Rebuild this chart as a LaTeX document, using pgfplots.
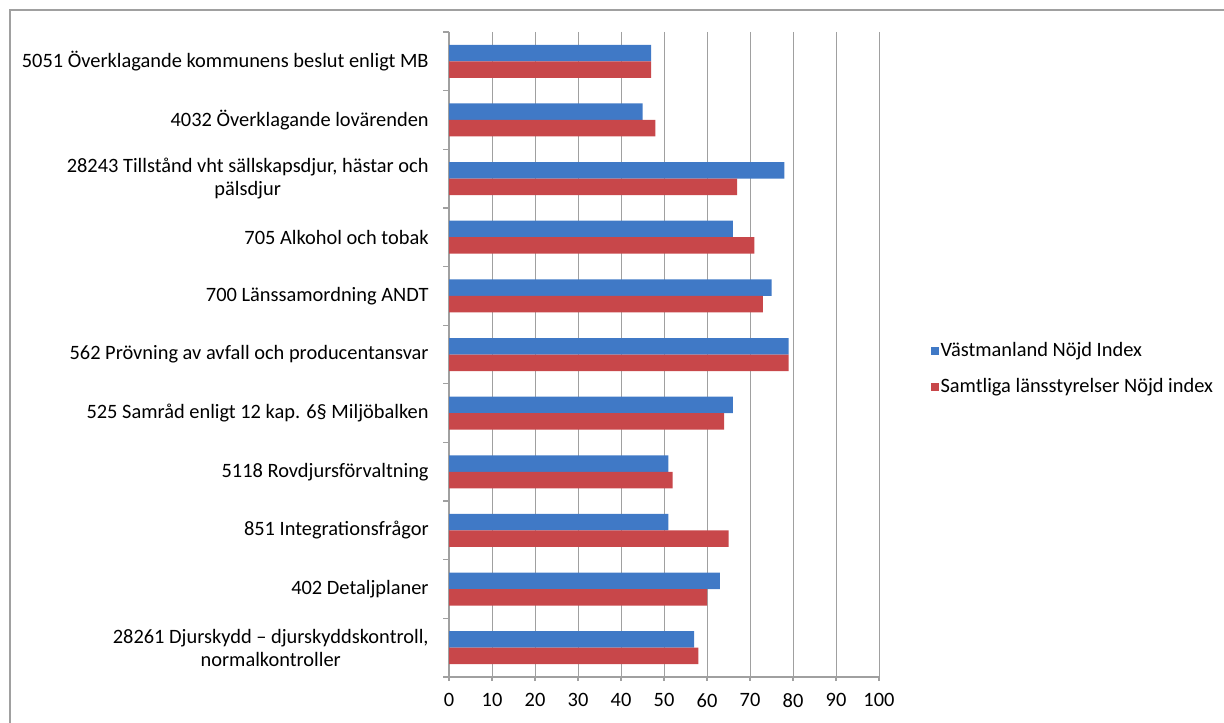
\documentclass[border=0pt]{standalone}
\usepackage{fontspec}
\setmainfont{Carlito}
\usepackage{pgfplots}
\pgfplotsset{compat=1.18}

\definecolor{vblue}{HTML}{4079C6}
\definecolor{sred}{HTML}{C8474A}
\definecolor{gridc}{HTML}{A0A0A0}

\begin{document}
\fontsize{10.2pt}{11.5pt}\selectfont
\begin{tikzpicture}
\useasboundingbox (0,0) rectangle (612pt,361pt);
% chart frame, only top and left edges are inside the picture
\draw[gridc, line width=0.7pt] (5pt,-20pt) -- (5pt,356pt) -- (640pt,356pt);
\begin{axis}[
  at={(224.5pt,22.5pt)}, anchor=south west,
  scale only axis, width=215pt, height=322.5pt,
  xbar=0pt, bar width=8.25pt,
  xmin=0, xmax=100, xtick={0,10,...,100},
  ymin=-0.5, ymax=10.5, y dir=reverse,
  ytick={0,...,10},
  yticklabels={
    {5051 Överklagande kommunens beslut enligt MB},
    {4032 Överklagande lovärenden},
    {28243 Tillstånd vht sällskapsdjur, hästar och\\pälsdjur},
    {705 Alkohol och tobak},
    {700 Länssamordning ANDT},
    {562 Prövning av avfall och producentansvar},
    {525 Samråd enligt 12 kap. 6§ Miljöbalken},
    {5118 Rovdjursförvaltning},
    {851 Integrationsfrågor},
    {402 Detaljplaner},
    {28261 Djurskydd – djurskyddskontroll,\\normalkontroller}},
  minor ytick={-0.5,0.5,...,10.5},
  axis x line*=bottom, axis y line*=left,
  axis line style={gridc, line width=0.6pt},
  xmajorgrids, major grid style={gridc, line width=0.5pt},
  tick align=outside, tick style={gridc, line width=0.6pt},
  major tick length=2pt, minor tick length=3pt,
  ytick style={draw=none}, minor y tick style={draw=gridc},
  /pgf/number format/assume math mode=true,
  xticklabel style={inner sep=0pt, anchor=north, yshift=-6pt},
  yticklabel style={inner sep=0pt, anchor=east, xshift=-8pt, align=center},
  tick label style={font=\fontsize{10.2pt}{11.5pt}\selectfont},
  legend style={at={(1.105,0.478)}, anchor=west, draw=none, fill=none,
    font=\fontsize{10.2pt}{11.5pt}\selectfont, row sep=7.5pt,
    nodes={inner sep=1pt}},
  legend cell align=left,
  legend image code/.code={\fill[#1,draw=none] (0pt,-2pt) rectangle (4pt,2pt);},
]
\addplot[fill=vblue, draw=none, bar shift=4.125pt] coordinates {
  (47,0) (45,1) (78,2) (66,3) (75,4) (79,5) (66,6) (51,7) (51,8) (63,9) (57,10)};
\addplot[fill=sred, draw=none, bar shift=-4.125pt] coordinates {
  (47,0) (48,1) (67,2) (71,3) (73,4) (79,5) (64,6) (52,7) (65,8) (60,9) (58,10)};
\legend{Västmanland Nöjd Index, Samtliga länsstyrelser Nöjd index}
\end{axis}
\end{tikzpicture}
\end{document}
